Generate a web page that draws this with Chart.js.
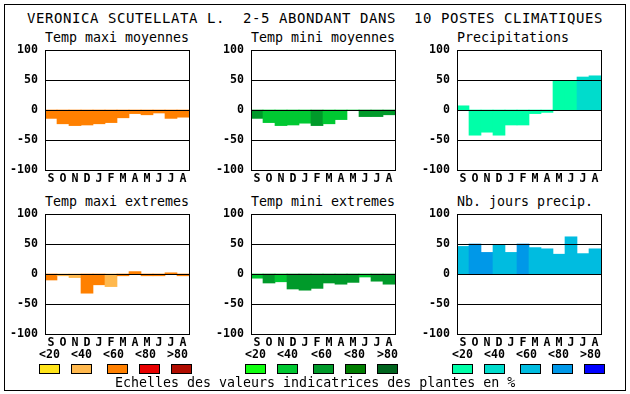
<!DOCTYPE html>
<html><head><meta charset="utf-8">
<script src="https://cdn.jsdelivr.net/npm/chart.js@4"></script>
<style>
html,body{margin:0;padding:0;background:#fff;}
#wrap{position:relative;width:630px;height:394px;overflow:hidden;font-family:"DejaVu Sans Mono",monospace;color:#000;}
.frame{position:absolute;left:4px;top:4px;width:622px;height:387px;border:1px solid #000;box-sizing:border-box;}
.t{position:absolute;white-space:pre;}
.main{font-size:14px;line-height:14px;letter-spacing:0.57px;left:27px;top:11px;}
.ptitle{font-size:13.3px;line-height:14px;}
.lab{font-size:11.6px;line-height:12px;font-weight:bold;}
.box{position:absolute;width:21px;height:10px;border:1px solid #000;box-sizing:border-box;top:364px;}
canvas{position:absolute;}
</style>
</head><body>
<div id="wrap">
<div class="frame"></div>
<div class="t main">VERONICA SCUTELLATA L.  2-5 ABONDANT DANS  10 POSTES CLIMATIQUES</div>
</div>
<script>
// ---- data ----
const months = ['S','O','N','D','J','F','M','A','M','J','J','A'];
const yTicks = [-100, -50, 0, 50, 100];
const gridValues = [50, 0, -50];
const classLabels = ['<20', '<40', '<60', '<80', '>80'];

const orangeScale = ['#FFE41A', '#FFB84D', '#FF8000', '#E80000', '#B00C00'];
const greenScale  = ['#10FF10', '#00C832', '#009A2A', '#007E00', '#00641E'];
const blueScale   = ['#00FFA8', '#00DCCC', '#00BCE0', '#0098E8', '#0000FF'];

const titleTempMaxiMoy = 'Temp maxi moyennes';
const tempMaxiMoy    = [-14, -23, -26, -25, -23, -21, -13, -6, -8, -5, -14, -12];
const tempMaxiMoyCls = [2, 2, 2, 2, 2, 2, 2, 2, 2, 2, 2, 2];

const titleTempMiniMoy = 'Temp mini moyennes';
const tempMiniMoy    = [-14, -21, -26, -25, -22, -26, -23, -16, 0, -11, -11, -8];
const tempMiniMoyCls = [2, 1, 1, 1, 1, 2, 1, 1, 1, 2, 2, 2];

const titlePrecip = 'Precipitations';
const precip    = [7, -42, -37, -42, -25, -25, -6, -4, 49, 49, 55, 57];
const precipCls = [0, 0, 0, 0, 0, 0, 0, 0, 0, 0, 1, 1];

const titleTempMaxiExt = 'Temp maxi extremes';
const tempMaxiExt    = [-10, -3, -6, -32, -18, -21, -3, 4, -3, -3, 2, -3];
const tempMaxiExtCls = [2, 1, 1, 2, 2, 1, 2, 2, 2, 2, 2, 2];

const titleTempMiniExt = 'Temp mini extremes';
const tempMiniExt    = [-7, -15, -13, -25, -27, -24, -15, -17, -14, -5, -12, -17];
const tempMiniExtCls = [1, 2, 1, 2, 2, 2, 2, 2, 2, 1, 2, 2];

const titleJoursPrecip = 'Nb. jours precip.';
const joursPrecip    = [46, 50, 36, 48, 36, 50, 44, 42, 33, 62, 34, 42];
const joursPrecipCls = [2, 3, 3, 2, 2, 3, 2, 2, 2, 2, 2, 2];

const footer = 'Echelles des valeurs indicatrices des plantes en %';

// ---- layout ----
const wrap = document.getElementById('wrap');
const PAD_L = 45, PAD_T = 10, PAD_R = 4, X_H = 20, PW = 144, PH = 120;
const tickFont = {family: '"DejaVu Sans Mono", monospace', size: 11.6, weight: 'bold'};

const framePlugin = {
  id: 'frame',
  afterDatasetsDraw(chart) {
    const {ctx, chartArea: a, scales: {y}} = chart;
    ctx.save();
    ctx.fillStyle = '#000';
    gridValues.forEach(v => {
      const py = Math.round(y.getPixelForValue(v));
      ctx.fillRect(a.left, py, a.right - a.left, 1);
    });
    ctx.strokeStyle = '#000';
    ctx.lineWidth = 1;
    ctx.strokeRect(a.left + 0.5, a.top + 0.5, a.right - a.left, a.bottom - a.top);
    ctx.restore();
  }
};

function addText(cls, txt, left, top) {
  const d = document.createElement('div');
  d.className = 't ' + cls;
  d.textContent = txt;
  d.style.left = left + 'px';
  d.style.top = top + 'px';
  wrap.appendChild(d);
}

function panel(plotLeft, plotTop, title, titleTop, values, cls, palette) {
  addText('ptitle', title, plotLeft, titleTop);
  const c = document.createElement('canvas');
  const w = PAD_L + PW + PAD_R, h = PAD_T + PH + X_H;
  c.width = w; c.height = h;
  c.style.left = (plotLeft - PAD_L) + 'px';
  c.style.top = (plotTop - PAD_T) + 'px';
  c.style.width = w + 'px'; c.style.height = h + 'px';
  wrap.appendChild(c);
  new Chart(c, {
    type: 'bar',
    data: {
      labels: months,
      datasets: [{
        data: values,
        backgroundColor: cls.map(k => palette[k]),
        borderWidth: 0,
        barPercentage: 1,
        categoryPercentage: 1
      }]
    },
    options: {
      responsive: false,
      animation: false,
      devicePixelRatio: 1,
      layout: {padding: {top: PAD_T, right: PAD_R, left: 0, bottom: 0}},
      plugins: {legend: {display: false}, tooltip: {enabled: false}, title: {display: false}},
      scales: {
        x: {
          grid: {display: false, drawTicks: false},
          border: {display: false},
          ticks: {font: tickFont, color: '#000', padding: 2, maxRotation: 0, autoSkip: false},
          afterFit(s) { s.height = X_H; s.paddingLeft = 0; s.paddingRight = 0; }
        },
        y: {
          min: -100, max: 100,
          afterBuildTicks(s) { s.ticks = yTicks.map(v => ({value: v})); },
          grid: {display: false, drawTicks: false},
          border: {display: false},
          ticks: {font: tickFont, color: '#000', padding: 7},
          afterFit(s) { s.width = PAD_L; s.paddingTop = 0; s.paddingBottom = 0; }
        }
      }
    },
    plugins: [framePlugin]
  });
}

const cols = [45, 251, 457];
const rows = [50, 214];
const titleTops = [30.5, 194.5];

panel(cols[0], rows[0], titleTempMaxiMoy, titleTops[0], tempMaxiMoy, tempMaxiMoyCls, orangeScale);
panel(cols[1], rows[0], titleTempMiniMoy, titleTops[0], tempMiniMoy, tempMiniMoyCls, greenScale);
panel(cols[2], rows[0], titlePrecip, titleTops[0], precip, precipCls, blueScale);
panel(cols[0], rows[1], titleTempMaxiExt, titleTops[1], tempMaxiExt, tempMaxiExtCls, orangeScale);
panel(cols[1], rows[1], titleTempMiniExt, titleTops[1], tempMiniExt, tempMiniExtCls, greenScale);
panel(cols[2], rows[1], titleJoursPrecip, titleTops[1], joursPrecip, joursPrecipCls, blueScale);

// ---- colour scale legend ----
const legendGroups = [
  {palette: orangeScale, labelX: [39, 71, 103, 135, 167], boxX: [39, 71, 107, 139, 171]},
  {palette: greenScale,  labelX: [245, 277, 311, 344, 377], boxX: [245, 277, 313, 345, 377]},
  {palette: blueScale,   labelX: [452, 484, 516, 548, 580], boxX: [452, 484, 520, 552, 584]}
];
legendGroups.forEach(g => {
  g.palette.forEach((col, i) => {
    addText('lab', classLabels[i], g.labelX[i], 348.3);
    const b = document.createElement('div');
    b.className = 'box';
    b.style.left = g.boxX[i] + 'px';
    b.style.background = col;
    wrap.appendChild(b);
  });
});
addText('ptitle', footer, 115, 375.5);
</script>
</body></html>
